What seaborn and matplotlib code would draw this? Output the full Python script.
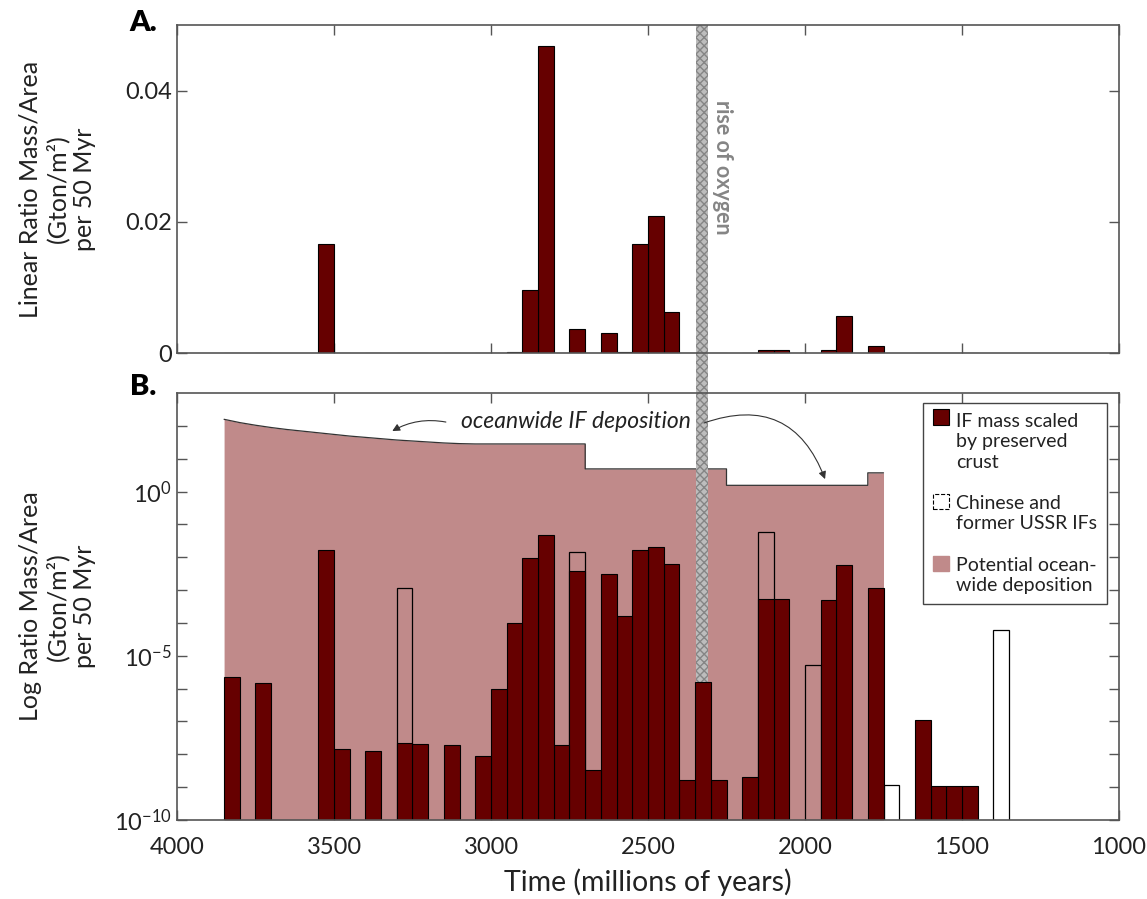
import numpy as np
import pandas as pd
import matplotlib
matplotlib.use("Agg")
import matplotlib.pyplot as plt
from matplotlib.patches import Patch, Rectangle
from matplotlib.legend_handler import HandlerPatch
import seaborn as sns

sns.set_style("ticks")
plt.rcParams['font.family'] = ['Lato', 'DejaVu Sans']
plt.rcParams['mathtext.fontset'] = 'custom'
plt.rcParams['mathtext.rm'] = 'Lato'
plt.rcParams['mathtext.it'] = 'Lato:italic'

# ------------------------------------------------------------
# Data (bin centres in Myr, 50 Myr bins; log10 of mass/area)
# ------------------------------------------------------------
if_centers = [3825, 3725, 3525, 3475, 3375, 3275, 3225, 3125, 3025, 2975,
              2925, 2875, 2825, 2775, 2725, 2675, 2625, 2575, 2525, 2475,
              2425, 2375, 2325, 2275, 2175, 2125, 2075, 1925, 1875, 1775,
              1625, 1575, 1525, 1475]
if_log = [-5.64, -5.83, -1.78, -7.83, -7.89, -7.67, -7.70, -7.73, -8.05, -6.02,
          -3.99, -2.02, -1.33, -7.73, -2.43, -8.48, -2.51, -3.80, -1.78, -1.68,
          -2.20, -8.78, -5.80, -8.78, -8.70, -3.27, -3.27, -3.30, -2.25, -2.94,
          -6.95, -8.96, -8.96, -8.96]

ussr_centers = [3275, 2725, 2125, 1975, 1725, 1375]
ussr_log = [-2.94, -1.84, -1.24, -5.27, -8.93, -4.21]

# potential ocean-wide deposition: smooth part (3850-2700) then flat steps
ocean_curve_t = [3850, 3800, 3750, 3700, 3650, 3600, 3550, 3500, 3450, 3400,
                 3350, 3300, 3250, 3200, 3150, 3100, 3050, 2700]
ocean_curve_log = [2.20, 2.10, 2.02, 1.95, 1.89, 1.84, 1.79, 1.74, 1.69, 1.65,
                   1.61, 1.57, 1.54, 1.51, 1.48, 1.46, 1.45, 1.45]
ocean_step_t = [2700, 2250, 2250, 1800, 1800, 1750]
ocean_step_log = [0.69, 0.69, 0.19, 0.19, 0.57, 0.57]

x_ticks = [4000, 3500, 3000, 2500, 2000, 1500, 1000]
oxygen_span = (2347, 2309)

dark_red = '#660000'
pink = '#c08a8a'
txt = '#222222'
spine = '#555555'

if_df = pd.DataFrame({'time': if_centers, 'value': 10.0 ** np.array(if_log)})
ussr_df = pd.DataFrame({'time': ussr_centers, 'value': 10.0 ** np.array(ussr_log)})
ocean_t = ocean_curve_t + ocean_step_t
ocean_v = 10.0 ** np.array(ocean_curve_log + ocean_step_log)
edges = list(range(1300, 3901, 50))

fig = plt.figure(figsize=(11.47, 8.99), dpi=100)
ax1 = fig.add_axes([0.1543, 0.6073, 0.8213, 0.3649])
ax2 = fig.add_axes([0.1543, 0.0879, 0.8213, 0.4749])


def drop_empty(ax):
    for p in list(ax.patches):
        if p.get_height() == 0:
            p.remove()


# -----------------
# Panel A: linear
# -----------------
sns.histplot(data=if_df, x='time', weights='value', bins=edges, ax=ax1,
             color=dark_red, edgecolor='black', linewidth=0.8, alpha=1, zorder=3)
drop_empty(ax1)
ax1.set_ylim(0, 0.05)
ax1.set_yticks([0, 0.02, 0.04])
ax1.set_yticklabels(['0', '0.02', '0.04'])
ax1.set_xticks(x_ticks)
ax1.set_xticklabels([])
ax1.set_xlabel('')
ax1.set_ylabel('Linear Ratio Mass/Area\n(Gton/m²)\nper 50 Myr', fontsize=18,
               color=txt, linespacing=1.2)
ax1.yaxis.set_label_coords(-0.086, 0.5)
ax1.axvspan(*oxygen_span, ymin=-0.125, ymax=1, clip_on=False, facecolor='#bdbdbd',
            edgecolor='#858585', hatch='xxxx', linewidth=0, zorder=1)
ax1.text(2262, 0.0283, 'rise of oxygen', rotation=270, ha='center', va='center',
         fontsize=15.5, fontweight='bold', color='#858585')

# -----------------
# Panel B: log
# -----------------
ax2.set_yscale('log')
ax2.fill_between(ocean_t, ocean_v, 1e-10, color=pink, linewidth=0, zorder=1)
ax2.plot(ocean_t, ocean_v, color='#333333', linewidth=0.9, zorder=1.2)
ax2.axvspan(*oxygen_span, facecolor='#bdbdbd', edgecolor='#858585', hatch='xxxx',
            linewidth=0, zorder=1.5)
sns.histplot(data=ussr_df, x='time', weights='value', bins=edges, ax=ax2, fill=False,
             color='black', linewidth=0.9, zorder=2)
drop_empty(ax2)
sns.histplot(data=if_df, x='time', weights='value', bins=edges, ax=ax2,
             color=dark_red, edgecolor='black', linewidth=0.8, alpha=1, zorder=3)
drop_empty(ax2)

ax2.set_ylim(1e-10, 1e3)
ax2.set_yticks([1e-10, 1e-5, 1e0])
ax2.set_yticklabels([r'$10^{-10}$', r'$10^{-5}$', r'$10^{0}$'])
ax2.set_yticks([10.0 ** k for k in range(-9, 3) if k not in (-5, 0)], minor=True)
ax2.yaxis.set_minor_formatter(matplotlib.ticker.NullFormatter())
ax2.set_xticks(x_ticks)
ax2.set_xticklabels([str(t) for t in x_ticks])
ax2.set_xlabel('Time (millions of years)', fontsize=20.5, color=txt, labelpad=8)
ax2.set_ylabel('Log Ratio Mass/Area\n(Gton/m²)\nper 50 Myr', fontsize=18,
               color=txt, linespacing=1.2)
ax2.yaxis.set_label_coords(-0.086, 0.5)

ax2.text(2728, 10 ** 2.12, 'oceanwide IF deposition', fontsize=16.5, style='italic',
         ha='center', va='center', color=txt)
ax2.annotate('', xy=(3322, 10 ** 1.80), xytext=(3135, 10 ** 2.10),
             arrowprops=dict(arrowstyle='-|>', color='#333333', lw=0.8,
                             mutation_scale=11, connectionstyle='arc3,rad=0.2'))
ax2.annotate('', xy=(1933, 10 ** 0.30), xytext=(2330, 10 ** 2.06),
             arrowprops=dict(arrowstyle='-|>', color='#333333', lw=0.8,
                             mutation_scale=11, connectionstyle='arc3,rad=-0.5'))

# legend: squares sit beside the first line of each label
leg_fs = 14
leg_ls = 1.25
handles = [Patch(facecolor=dark_red, edgecolor='black', linewidth=0.8),
           Patch(facecolor='white', edgecolor='black', linestyle='--', linewidth=0.8),
           Patch(facecolor=pink, edgecolor=pink)]
labels = ['IF mass scaled\nby preserved\ncrust', 'Chinese and\nformer USSR IFs',
          'Potential ocean-\nwide deposition']
n_lines = [3, 2, 2]


def make_top_square(n):
    def patch_func(legend, orig_handle, xdescent, ydescent, width, height, fontsize):
        shift = (n - 1) / 2.0 * fontsize * leg_ls * 1.02
        return Rectangle((-xdescent, -ydescent + shift), width, height)
    return HandlerPatch(patch_func=patch_func)


leg = ax2.legend(handles, labels, loc='upper left', bbox_to_anchor=(0.792, 0.977),
                 fontsize=leg_fs, frameon=True, fancybox=False, framealpha=1,
                 edgecolor='#444444', handlelength=0.85, handleheight=0.85,
                 handletextpad=0.35, labelspacing=1.25, borderpad=0.5,
                 borderaxespad=0,
                 handler_map={h: make_top_square(n) for h, n in zip(handles, n_lines)})
leg.get_frame().set_linewidth(1.0)
for t in leg.get_texts():
    t.set_color(txt)
    t.set_linespacing(leg_ls)

for ax in (ax1, ax2):
    ax.set_xlim(4000, 1000)
    ax.tick_params(direction='in', top=True, right=True, length=7, width=1,
                   labelsize=17, colors=spine, labelcolor=txt)
    ax.tick_params(axis='x', pad=12)
    ax.tick_params(which='minor', direction='in', right=True, length=7, width=1,
                   colors=spine)
    for s in ax.spines.values():
        s.set_color(spine)
        s.set_linewidth(1.2)
        s.set_zorder(5)
    ax.set_facecolor('white')

fig.text(0.125, 0.974, 'A.', fontsize=21, fontweight='heavy', ha='center', va='center', color='black')
fig.text(0.125, 0.569, 'B.', fontsize=21, fontweight='heavy', ha='center', va='center', color='black')

fig.savefig('out.png', dpi=100)
